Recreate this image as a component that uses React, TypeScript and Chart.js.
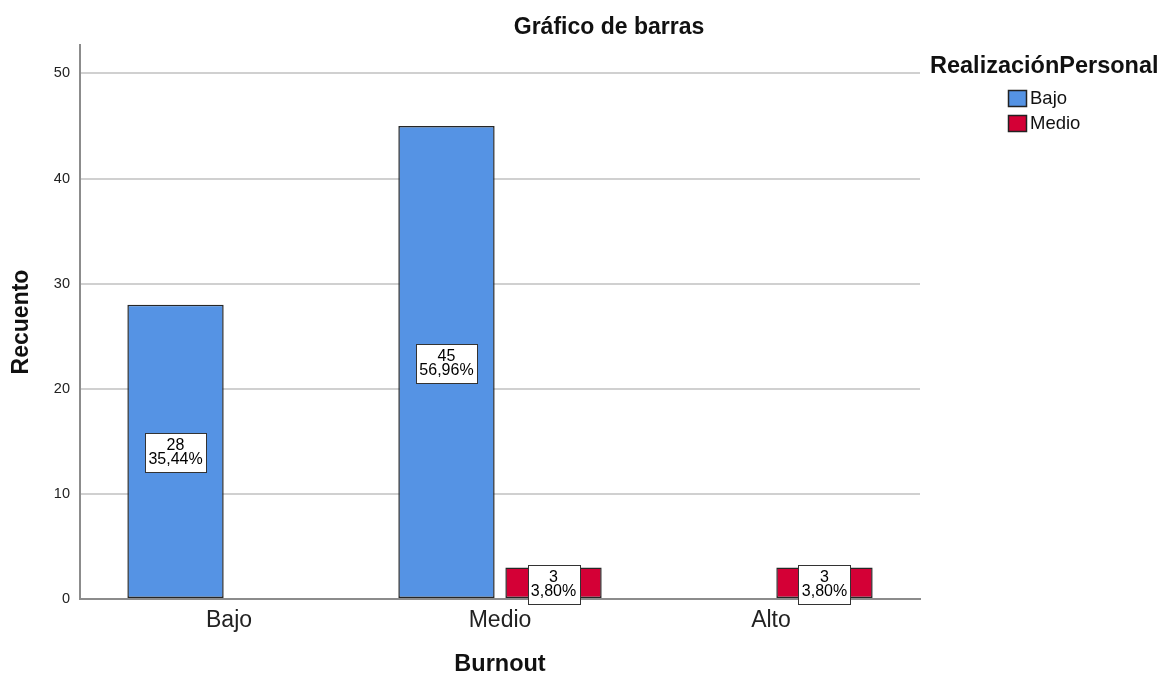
import React, { useEffect, useRef } from "react";
import { Chart, registerables } from "chart.js";
Chart.register(...registerables);

const categories = ["Bajo", "Medio", "Alto"];
const seriesNames = ["Bajo", "Medio"];
const bajoCounts: (number | null)[] = [28, 45, null];
const medioCounts: (number | null)[] = [null, 3, 3];
const bajoPercents = ["35,44%", "56,96%", ""];
const medioPercents = ["", "3,80%", "3,80%"];
const yTicks = [0, 10, 20, 30, 40, 50];
const seriesColors = ["#5593E4", "#D40036"];

const FONT = "'Liberation Sans', Arial, Helvetica, sans-serif";

function toPoints(counts: (number | null)[], pcts: string[]) {
  const pts: { x: number; y: number; pct: string }[] = [];
  counts.forEach((v, i) => {
    if (v !== null) pts.push({ x: i + 1, y: v, pct: pcts[i] });
  });
  return pts;
}

const labelBoxPlugin = {
  id: "labelBoxes",
  afterDatasetsDraw(chart: any) {
    const ctx = chart.ctx;
    const yScale = chart.scales.y;
    ctx.save();
    ctx.font = `16px ${FONT}`;
    chart.data.datasets.forEach((ds: any, di: number) => {
      const meta = chart.getDatasetMeta(di);
      meta.data.forEach((el: any, j: number) => {
        const raw = ds.data[j];
        const line1 = String(raw.y);
        const line2 = raw.pct;
        const w = Math.round(Math.max(ctx.measureText(line1).width, ctx.measureText(line2).width) + 7);
        const h = 39;
        const cx = el.x;
        const cy = yScale.getPixelForValue(raw.y / 2) + 1;
        const left = Math.round(cx - w / 2) + 0.5;
        const top = Math.round(cy - h / 2) + 0.5;
        ctx.fillStyle = "#ffffff";
        ctx.strokeStyle = "#333333";
        ctx.lineWidth = 1;
        ctx.fillRect(left, top, w, h);
        ctx.strokeRect(left, top, w, h);
        ctx.fillStyle = "#000000";
        ctx.textAlign = "center";
        ctx.textBaseline = "middle";
        ctx.fillText(line1, cx, cy - 7);
        ctx.fillText(line2, cx, cy + 7);
      });
    });
    ctx.restore();
  },
};

const decorPlugin = {
  id: "decor",
  afterDraw(chart: any) {
    const ctx = chart.ctx;
    const area = chart.chartArea;
    ctx.save();
    // Title
    ctx.fillStyle = "#111111";
    ctx.font = `bold 23px ${FONT}`;
    ctx.textAlign = "center";
    ctx.textBaseline = "middle";
    ctx.fillText("Gráfico de barras", 609, 28);
    // Legend title
    ctx.textAlign = "left";
    ctx.font = `bold 23.5px ${FONT}`;
    ctx.fillText("RealizaciónPersonal", area.right + 10, 67);
    // Legend items
    ctx.font = `18.5px ${FONT}`;
    chart.data.datasets.forEach((ds: any, i: number) => {
      const x = area.right + 88;
      const y = 98 + i * 25;
      ctx.fillStyle = ds.backgroundColor;
      ctx.fillRect(x + 0.5, y - 8 + 0.5, 18, 16);
      ctx.strokeStyle = "#222222";
      ctx.lineWidth = 1.5;
      ctx.strokeRect(x + 0.5, y - 8 + 0.5, 18, 16);
      ctx.fillStyle = "#111111";
      ctx.fillText(ds.label, x + 22, y + 1);
    });
    ctx.restore();
  },
};

export default function App() {
  const ref = useRef<HTMLCanvasElement | null>(null);
  useEffect(() => {
    document.body.style.margin = "0";
    if (!ref.current) return;
    Chart.defaults.font.family = FONT;
    const chart = new Chart(ref.current, {
      type: "bar",
      data: {
        datasets: [
          {
            label: seriesNames[0],
            data: toPoints(bajoCounts, bajoPercents) as any,
            backgroundColor: seriesColors[0],
            borderColor: "#262626",
            borderWidth: 1.5,
            borderSkipped: false,
          },
          {
            label: seriesNames[1],
            data: toPoints(medioCounts, medioPercents) as any,
            backgroundColor: seriesColors[1],
            borderColor: "#262626",
            borderWidth: 1.5,
            borderSkipped: false,
          },
        ],
      },
      options: {
        animation: false,
        responsive: false,
        maintainAspectRatio: false,
        categoryPercentage: 0.79,
        barPercentage: 0.9,
        layout: { padding: { top: 45, right: 246, bottom: 0, left: 0 } },
        plugins: {
          legend: { display: false },
          title: { display: false },
          tooltip: { enabled: false },
        },
        scales: {
          x: {
            type: "linear",
            offset: false,
            min: 0.45,
            max: 3.55,
            afterBuildTicks: (scale: any) => {
              scale.ticks = categories.map((_, i) => ({ value: i + 1 }));
            },
            afterFit: (scale: any) => {
              scale.height = 76;
            },
            ticks: {
              padding: 8,
              color: "#222222",
              font: { size: 23 },
              callback: (v: any) => categories[Math.round(Number(v)) - 1] ?? "",
            },
            grid: { display: false, drawTicks: false, offset: false },
            border: { display: true, color: "#8c8c8c", width: 2 },
            title: {
              display: true,
              text: "Burnout",
              color: "#111111",
              font: { size: 23.5, weight: "bold", lineHeight: 0.85 },
              padding: { top: 0, bottom: 0 },
            },
          },
          y: {
            min: 0,
            max: 52.7,
            afterBuildTicks: (scale: any) => {
              scale.ticks = yTicks.map((v) => ({ value: v }));
            },
            afterFit: (scale: any) => {
              scale.width = 80;
            },
            ticks: {
              padding: 10,
              color: "#222222",
              font: { size: 14.5 },
            },
            grid: { color: "#d0d0d0", lineWidth: 2, drawTicks: false },
            border: { display: true, color: "#8c8c8c", width: 2 },
            title: {
              display: true,
              text: "Recuento",
              color: "#111111",
              font: { size: 23, weight: "bold" },
              padding: { top: 8, bottom: 0 },
            },
          },
        },
      },
      plugins: [labelBoxPlugin, decorPlugin],
    });
    return () => chart.destroy();
  }, []);
  return (
    <div style={{ width: 1166, height: 675 }}>
      <canvas ref={ref} width={1166} height={675} style={{ width: 1166, height: 675, display: "block" }} />
    </div>
  );
}
